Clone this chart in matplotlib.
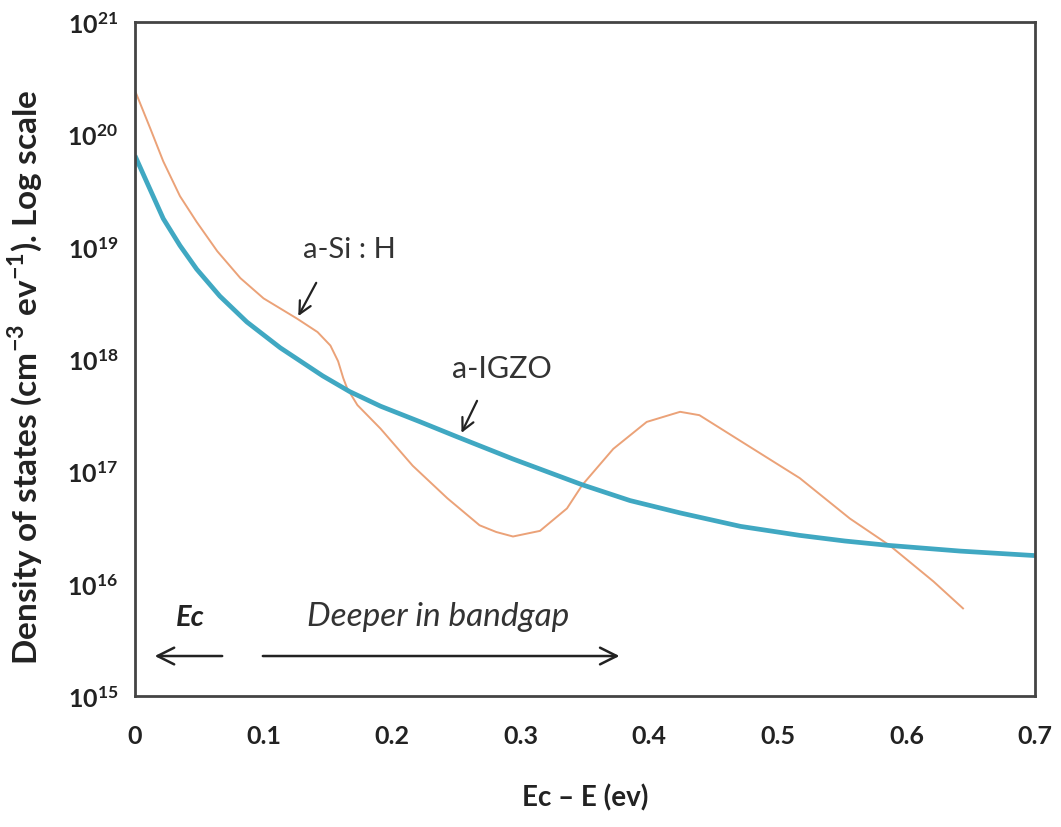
#! /usr/bin/env python3

import matplotlib
matplotlib.use("Agg")
import matplotlib.pyplot as plt
import numpy as np

plt.rcParams["font.family"] = ["Lato", "DejaVu Sans"]
plt.rcParams["mathtext.fontset"] = "custom"
plt.rcParams["mathtext.rm"] = "Lato:bold"
plt.rcParams["mathtext.bf"] = "Lato:bold"

# a-IGZO density of states, log10 values
igzo_e = [0.0, 0.009, 0.022, 0.035, 0.048, 0.066, 0.087, 0.113, 0.146,
          0.167, 0.191, 0.222, 0.250, 0.294, 0.348, 0.385, 0.424, 0.471,
          0.517, 0.552, 0.587, 0.642, 0.7]
igzo_log = [19.81, 19.58, 19.25, 19.01, 18.80, 18.56, 18.33, 18.10, 17.85,
            17.71, 17.58, 17.44, 17.31, 17.11, 16.88, 16.74, 16.63, 16.51,
            16.43, 16.38, 16.34, 16.29, 16.25]

# a-Si:H density of states, log10 values
asi_e = [0.0, 0.012, 0.022, 0.035, 0.048, 0.064, 0.082, 0.100, 0.126,
         0.142, 0.152, 0.158, 0.162, 0.165, 0.173, 0.191, 0.216, 0.243,
         0.268, 0.281, 0.294, 0.315, 0.336, 0.348, 0.372, 0.398, 0.424,
         0.439, 0.471, 0.517, 0.556, 0.587, 0.621, 0.644]
asi_log = [20.39, 20.05, 19.76, 19.45, 19.22, 18.96, 18.72, 18.54, 18.36,
           18.24, 18.12, 17.98, 17.83, 17.74, 17.59, 17.38, 17.05, 16.76,
           16.52, 16.46, 16.42, 16.47, 16.67, 16.88, 17.20, 17.44, 17.53,
           17.50, 17.27, 16.94, 16.58, 16.34, 16.02, 15.78]

x_ticks = [0, 0.1, 0.2, 0.3, 0.4, 0.5, 0.6, 0.7]
x_tick_labels = ["0", "0.1", "0.2", "0.3", "0.4", "0.5", "0.6", "0.7"]
y_exponents = [15, 16, 17, 18, 19, 20, 21]

fig = plt.figure(figsize=(10.61, 8.28), dpi=100)
ax = fig.add_axes([0.1272, 0.1582, 0.8483, 0.814])

ax.plot(asi_e, 10 ** np.array(asi_log), color="#EBA278", lw=1.4,
        solid_joinstyle="round")
ax.plot(igzo_e, 10 ** np.array(igzo_log), color="#40A8C2", lw=3.4,
        solid_joinstyle="round", solid_capstyle="butt")

ax.set_yscale("log")
ax.set_xlim(0, 0.7)
ax.set_ylim(1e15, 1e21)
ax.set_xticks(x_ticks)
ax.set_xticklabels(x_tick_labels, fontsize=18, fontweight="bold", color="#222222")
ax.set_yticks([10.0 ** e for e in y_exponents])
ax.set_yticklabels([rf"$\mathrm{{10^{{{e}}}}}$" for e in y_exponents],
                   fontsize=18, color="#222222")
ax.yaxis.set_minor_locator(matplotlib.ticker.NullLocator())
ax.tick_params(length=0, pad=12)
ax.tick_params(axis="x", pad=20)
for s in ax.spines.values():
    s.set_linewidth(2)
    s.set_color("#444444")

ax.set_ylabel(r"Density of states (cm$^{-3}$ ev$^{-1}$). Log scale",
              fontsize=24, fontweight="bold", color="#222222")
ax.yaxis.set_label_coords(-0.101, 0.475)
ax.set_xlabel("Ec \u2013 E (ev)", fontsize=20, fontweight="bold",
              labelpad=26, color="#222222")

# curve labels with arrows
ax.text(0.167, 10 ** 18.98, "a-Si : H", fontsize=21, color="#333333",
        ha="center", va="center")
ax.annotate("", xy=(0.126, 10 ** 18.36), xytext=(0.142, 10 ** 18.70),
            arrowprops=dict(arrowstyle="->", color="#222222", lw=1.6,
                            mutation_scale=22))
ax.text(0.285, 10 ** 17.92, "a-IGZO", fontsize=22, color="#333333",
        ha="center", va="center")
ax.annotate("", xy=(0.253, 10 ** 17.32), xytext=(0.267, 10 ** 17.65),
            arrowprops=dict(arrowstyle="->", color="#222222", lw=1.6,
                            mutation_scale=22))

# direction arrows at the bottom
ax.text(0.0428, 10 ** 15.63, "Ec", fontsize=21, fontweight="bold",
        fontstyle="italic", ha="center", va="baseline", color="#222222")
ax.text(0.236, 10 ** 15.63, "Deeper in bandgap", fontsize=24,
        fontstyle="italic", ha="center", va="baseline", color="#333333")
ax.annotate("", xy=(0.0132, 10 ** 15.356), xytext=(0.07, 10 ** 15.356),
            arrowprops=dict(arrowstyle="->", color="#222222", lw=1.8,
                            mutation_scale=30))
ax.annotate("", xy=(0.379, 10 ** 15.356), xytext=(0.0973, 10 ** 15.356),
            arrowprops=dict(arrowstyle="->", color="#222222", lw=1.8,
                            mutation_scale=30))

fig.savefig("out.png", dpi=100)
